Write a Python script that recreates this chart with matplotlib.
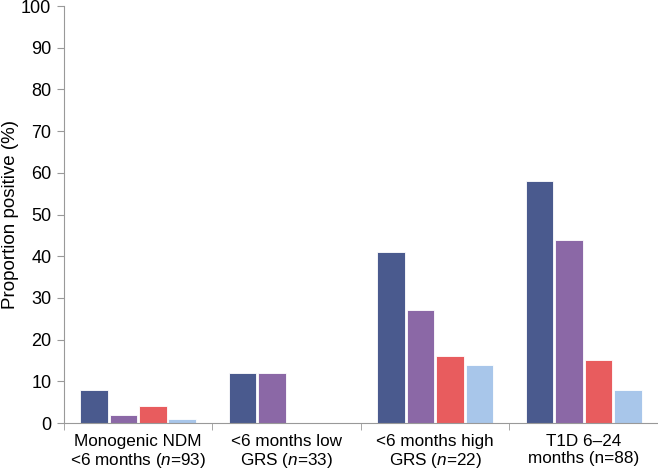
import matplotlib.pyplot as plt
import numpy as np

plt.rcParams['font.family'] = ['Liberation Sans', 'DejaVu Sans']
plt.rcParams['mathtext.fontset'] = 'custom'
plt.rcParams['mathtext.rm'] = 'Liberation Sans'
plt.rcParams['mathtext.it'] = 'Liberation Sans:italic'

categories = ['Monogenic NDM\n<6 months ($\\it{n}$=93)',
              '<6 months low\nGRS ($\\it{n}$=33)',
              '<6 months high\nGRS ($\\it{n}$=22)',
              'T1D 6–24\nmonths (n=88)']
series1 = [8, 12, 41, 58]
series2 = [2, 12, 27, 44]
series3 = [4, 0, 16, 15]
series4 = [1, 0, 14, 8]
colors = ['#4a5a8e', '#8b68a6', '#e85c5e', '#a8c6ea']

fig = plt.figure(figsize=(6.58, 4.73), dpi=100)
ax = fig.add_axes([0.097, 0.1057, 0.903, 0.8816])

x = np.arange(len(categories)) + 0.5
pitch = 0.198
for i, vals in enumerate([series1, series2, series3, series4]):
    ax.bar(x + (i - 1.5) * pitch, vals, width=0.185, color=colors[i],
           edgecolor='white', linewidth=0.6)

ax.set_xlim(0, 4)
ax.set_ylim(0, 100)
ax.set_yticks(np.arange(0, 101, 10))
ax.set_xticks(x)
ax.set_xticklabels(categories, fontsize=12.3, linespacing=1.15)
ax.set_xticks(np.arange(0, 5), minor=True)
ax.tick_params(axis='x', which='major', length=0, pad=8)
ax.tick_params(axis='x', which='minor', length=5, color='#999999', direction='out')
ax.tick_params(axis='y', length=5, color='#999999', labelsize=13, pad=4)
for s in ['top', 'right']:
    ax.spines[s].set_visible(False)
for s in ['left', 'bottom']:
    ax.spines[s].set_color('#999999')
ax.set_ylabel('Proportion positive (%)', fontsize=13.5, va='center')
ax.yaxis.set_label_coords(-0.089, 0.5)

fig.savefig('out.png', dpi=100)
